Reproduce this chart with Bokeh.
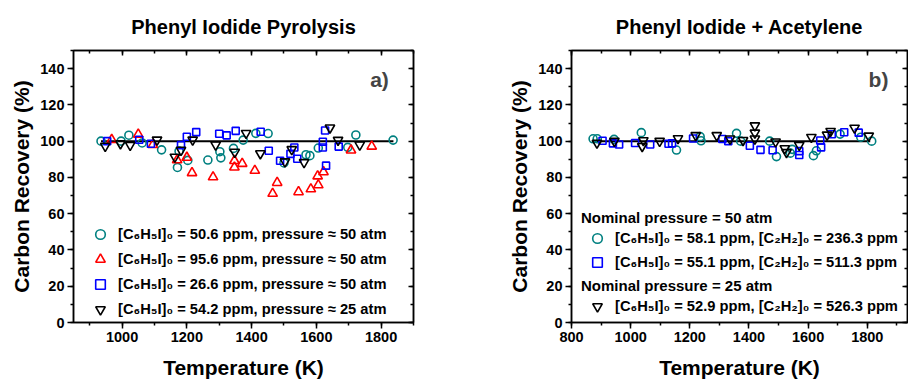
from bokeh.plotting import figure
from bokeh.models import (Range1d, LinearAxis, SingleIntervalTicker, Legend,
                          LegendItem, Label, Title, CustomJSTickFormatter)
from bokeh.layouts import row
from bokeh.embed import file_html
from bokeh.resources import INLINE

FONT = "Liberation Sans"
TEAL, RED, BLUE, BLACK = "#008080", "#ff0000", "#0000ff", "#000000"

# ---------------- Panel a: Phenyl Iodide Pyrolysis ----------------
a_teal_T = [935, 997, 1021, 1062, 1122, 1171, 1176, 1203, 1265, 1302, 1305, 1344,
            1374, 1413, 1451, 1500, 1568, 1580, 1606, 1697, 1722, 1837]
a_teal_v = [100, 100, 103.3, 99, 95.2, 85.5, 94.5, 89.4, 89.6, 94.2, 90.8, 96,
            100.6, 104.3, 104.2, 88, 92.5, 92, 96.2, 96.6, 103.4, 100.6]

a_red_T = [968, 1050, 1095, 1170, 1200, 1216, 1281, 1347, 1347, 1371, 1410, 1465,
           1479, 1545, 1583, 1604, 1606, 1622, 1707, 1771]
a_red_v = [100.8, 103.7, 98, 89.6, 91, 82.5, 80.2, 85.6, 89.2, 87.6, 83.8, 71.1,
           77.1, 72, 73.6, 80.7, 75.8, 83, 95, 97.1]

a_blue_T = [954, 1053, 1089, 1182, 1200, 1229, 1300, 1323, 1351, 1428, 1453, 1488,
            1520, 1532, 1541, 1620, 1620, 1627, 1630, 1669]
a_blue_v = [100, 100.8, 98.6, 97.8, 102.4, 105, 104.1, 103.2, 105.7, 105.2, 94.7, 89.2,
            93, 96.5, 90.3, 99.7, 96.5, 105.9, 86.5, 97]

a_black_T = [948, 995, 1025, 1108, 1163, 1182, 1218, 1289, 1348, 1383, 1427, 1503,
             1524, 1562, 1642, 1667, 1734]
a_black_v = [97.3, 98.7, 97.8, 100.7, 91.3, 95.1, 100.7, 98, 94, 104.4, 93.2, 88.7,
             95.5, 88.3, 107.4, 100.6, 98]

a_line_T = [935, 1838]
a_line_v = [100, 100]

a_labels = [
    "[C₆H₅I]₀ = 50.6 ppm, pressure ≈ 50 atm",
    "[C₆H₅I]₀ = 95.6 ppm, pressure ≈ 50 atm",
    "[C₆H₅I]₀ = 26.6 ppm, pressure ≈ 50 atm",
    "[C₆H₅I]₀ = 54.2 ppm, pressure ≈ 25 atm",
]

# ---------------- Panel b: Phenyl Iodide + Acetylene ----------------
b_teal_T = [873, 887, 944, 1036, 1155, 1235, 1238, 1358, 1372, 1470, 1493, 1540,
            1546, 1618, 1628, 1708, 1778, 1815]
b_teal_v = [101.3, 101.3, 101, 104.7, 95.1, 102.5, 100.2, 104.3, 100, 100, 91.5, 93.4,
            95.5, 92, 94.7, 103.9, 102.2, 100]

b_blue_T = [905, 940, 961, 1015, 1066, 1128, 1140, 1211, 1310, 1330, 1403, 1439,
            1480, 1570, 1570, 1641, 1644, 1680, 1722, 1771]
b_blue_v = [100.2, 98.8, 98.2, 99, 98.2, 98.6, 98.8, 101.5, 101.2, 100, 97.5, 95.2,
            95, 92.4, 94.5, 100.4, 96.6, 103.8, 104.9, 104.7]

b_black_T = [886, 945, 1039, 1043, 1098, 1160, 1220, 1291, 1336, 1380, 1420, 1420,
             1420, 1490, 1521, 1527, 1570, 1611, 1664, 1676, 1757, 1805]
b_black_v = [99, 100, 97.2, 100.4, 100, 101.5, 103.2, 103.2, 101.3, 100.5, 108.6, 104.6,
             101.3, 99.7, 96, 93.8, 97.8, 102.2, 103.5, 105.5, 107.3, 102.9]

b_line_T = [870, 1810]
b_line_v = [100, 100]

b_titles = ["Nominal pressure = 50 atm", "Nominal pressure = 25 atm"]
b_labels = [
    "[C₆H₅I]₀ = 58.1 ppm, [C₂H₂]₀ = 236.3 ppm",
    "[C₆H₅I]₀ = 55.1 ppm, [C₂H₂]₀ = 511.3 ppm",
    "[C₆H₅I]₀ = 52.9 ppm, [C₂H₂]₀ = 526.3 ppm",
]


def make_fig(title, xr, bl, br):
    p = figure(width=454, height=381, x_range=Range1d(*xr), y_range=Range1d(0, 150),
               output_backend="svg", toolbar_location=None,
               min_border_left=bl, min_border_right=br,
               min_border_top=50, min_border_bottom=55)
    p.grid.visible = False
    p.outline_line_color = "black"
    p.outline_line_width = 1.5
    p.background_fill_color = "white"
    p.border_fill_color = "white"

    p.title.text = title
    p.title.align = "center"
    p.title.text_font = FONT
    p.title.text_font_size = "20px"
    p.title.text_font_style = "bold"
    p.title.text_color = "black"
    p.title.standoff = 25

    for ax, iv in ((p.xaxis[0], 200), (p.yaxis[0], 20)):
        ax.ticker = SingleIntervalTicker(interval=iv, num_minor_ticks=2)
        ax.major_tick_out = 6
        ax.major_tick_in = 0
        ax.minor_tick_out = 3
        ax.minor_tick_in = 0
        ax.axis_line_width = 1.5
        ax.major_tick_line_width = 1.5
        ax.minor_tick_line_width = 1.5
        ax.major_label_text_font = FONT
        ax.major_label_text_font_size = "14.5px"
        ax.major_label_text_font_style = "bold"
        ax.major_label_text_color = "black"
        ax.major_label_standoff = 3

    p.xaxis.axis_label = "Temperature (K)"
    p.xaxis.axis_label_text_font = FONT
    p.xaxis.axis_label_text_font_size = "21px"
    p.xaxis.axis_label_text_font_style = "bold"
    p.xaxis.axis_label_text_color = "black"
    p.xaxis.axis_label_standoff = 11

    p.add_layout(Title(text="Carbon Recovery (%)", align="center", offset=-13,
                       text_font=FONT, text_font_size="21px", text_font_style="bold",
                       text_color="black"),
                 "left")

    blank = CustomJSTickFormatter(code="return ''")
    for side, iv in (("above", 200), ("right", 20)):
        ax = LinearAxis(ticker=SingleIntervalTicker(interval=iv, num_minor_ticks=2),
                        formatter=blank,
                        major_tick_in=5, major_tick_out=0, minor_tick_in=3, minor_tick_out=0,
                        major_label_standoff=0,
                        axis_line_width=1.5, major_tick_line_width=1.5,
                        minor_tick_line_width=1.5)
        p.add_layout(ax, side)
    return p


def scat(p, T, v, marker, color, size):
    return p.scatter(T, v, marker=marker, size=size, fill_color=None,
                     line_color=color, line_width=1.6)


# ---- panel a
pa = make_fig("Phenyl Iodide Pyrolysis", (850, 1900), 73, 41)
pa.line(a_line_T, a_line_v, line_color="black", line_width=2)
ra = [scat(pa, a_teal_T, a_teal_v, "circle", TEAL, 8),
      scat(pa, a_red_T, a_red_v, "triangle", RED, 9.5),
      scat(pa, a_blue_T, a_blue_v, "square", BLUE, 7),
      scat(pa, a_black_T, a_black_v, "inverted_triangle", BLACK, 9.5)]
leg_a = Legend(items=[LegendItem(label=l, renderers=[r]) for l, r in zip(a_labels, ra)],
               location=(15, 1), padding=0, margin=0, spacing=1,
               glyph_width=24, glyph_height=24, label_height=24, label_standoff=6,
               label_text_font=FONT, label_text_font_size="14.7px",
               label_text_font_style="bold", label_text_color="black",
               background_fill_alpha=0, border_line_alpha=0)
pa.add_layout(leg_a, "center")
pa.add_layout(Label(x=1795, y=134, text="a)", text_align="center", text_baseline="middle",
                    text_font=FONT, text_font_size="21px", text_font_style="bold"))

# ---- panel b
pb = make_fig("Phenyl Iodide + Acetylene", (800, 1936), 117, 1)
pb.line(b_line_T, b_line_v, line_color="black", line_width=2)
rb = [scat(pb, b_teal_T, b_teal_v, "circle", TEAL, 8),
      scat(pb, b_blue_T, b_blue_v, "square", BLUE, 7),
      scat(pb, b_black_T, b_black_v, "inverted_triangle", BLACK, 9.5)]

common = dict(padding=0, margin=0, spacing=0, glyph_width=32, glyph_height=24,
              label_height=24, label_standoff=2, label_text_font=FONT,
              label_text_font_size="14.7px", label_text_font_style="bold",
              label_text_color="black", title_text_font=FONT,
              title_text_font_size="15px", title_text_font_style="bold",
              title_text_color="black", title_standoff=0,
              background_fill_alpha=0, border_line_alpha=0)
leg_b1 = Legend(title=b_titles[0],
                items=[LegendItem(label=b_labels[0], renderers=[rb[0]]),
                       LegendItem(label=b_labels[1], renderers=[rb[1]])],
                location=(10, 48), **common)
leg_b2 = Legend(title=b_titles[1],
                items=[LegendItem(label=b_labels[2], renderers=[rb[2]])],
                location=(10, 4), **common)
pb.add_layout(leg_b1, "center")
pb.add_layout(leg_b2, "center")
pb.add_layout(Label(x=1838, y=134, text="b)", text_align="center", text_baseline="middle",
                    text_font=FONT, text_font_size="21px", text_font_style="bold"))

layout = row(pa, pb, spacing=0)
open("out.html", "w").write(file_html(layout, INLINE))
